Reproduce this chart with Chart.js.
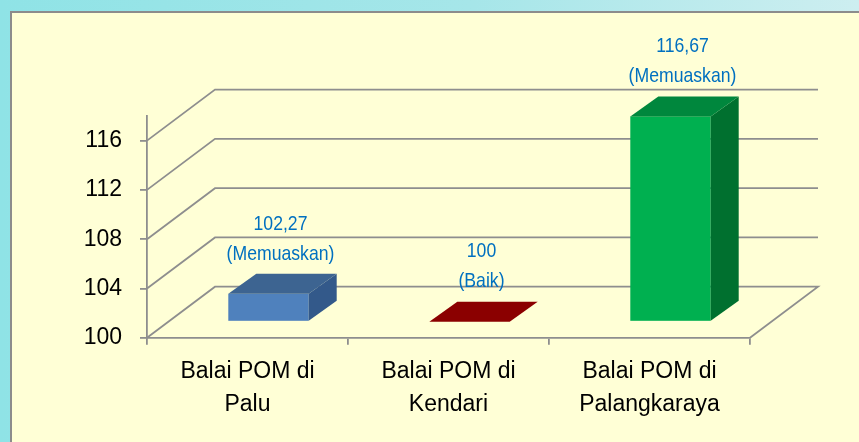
<!DOCTYPE html>
<html>
<head>
<meta charset="utf-8">
<script src="https://cdn.jsdelivr.net/npm/chart.js@4"></script>
<style>
  html, body { margin: 0; padding: 0; }
  body {
    width: 859px; height: 442px; overflow: hidden; position: relative;
    background: linear-gradient(to right, #8fe3e6 0%, #a6e6e9 55%, #cdeef0 100%);
  }
  #panel {
    position: absolute; left: 10px; top: 11px; width: 900px; height: 500px;
    background: #ffffd6; border-left: 2px solid #8c8c8c; border-top: 2px solid #8c8c8c;
  }
  #chart { position: absolute; left: 0; top: 0; }
</style>
</head>
<body>
<div id="panel"></div>
<canvas id="chart" width="859" height="442"></canvas>
<script>
const categories = [['Balai POM di', 'Palu'], ['Balai POM di', 'Kendari'], ['Balai POM di', 'Palangkaraya']];
const scores = [102.27, 100, 116.67];
const scoreText = ['102,27', '100', '116,67'];
const ratings = ['(Memuaskan)', '(Baik)', '(Memuaskan)'];
const yTicks = [100, 104, 108, 112, 116];

const frontColors = ['#4f81bd', '#8b0000', '#00b050'];
const topColors = ['#3d6491', '#8b0000', '#00873d'];
const sideColors = ['#33598a', '#6e0000', '#00702f'];

const GRID = '#8e8e8e';
const FONT = "'Liberation Sans', Arial, sans-serif";
const WALL = { dx: 68, dy: -51 };   // back wall offset
const PLANE = { dx: 21, dy: -16 };  // front plane of the bars
const DEPTH = { dx: 28, dy: -20 };  // bar depth

const walls = {
  id: 'walls',
  beforeDraw(chart) {
    const { ctx, chartArea: a, scales: { y } } = chart;
    ctx.save();
    ctx.strokeStyle = GRID;
    ctx.lineWidth = 1.8;
    yTicks.forEach(v => {
      const py = y.getPixelForValue(v);
      ctx.beginPath();
      ctx.moveTo(a.left, py);
      ctx.lineTo(a.left + WALL.dx, py + WALL.dy);
      ctx.lineTo(a.right + WALL.dx, py + WALL.dy);
      if (v === yTicks[0]) ctx.lineTo(a.right, py);
      ctx.stroke();
    });
    ctx.restore();
  },
  beforeDatasetDraw(chart, args) {
    const { ctx } = chart;
    ctx.save();
    args.meta.data.forEach((bar, i) => {
      const p = bar.getProps(['x', 'y', 'base', 'width'], true);
      const l = p.x - p.width / 2 + PLANE.dx;
      const r = p.x + p.width / 2 + PLANE.dx;
      const t = p.y + PLANE.dy;
      const b = p.base + PLANE.dy;
      if (b - t > 0.5) {
        ctx.fillStyle = frontColors[i];
        ctx.fillRect(l, t, r - l, b - t);
        ctx.fillStyle = sideColors[i];
        ctx.beginPath();
        ctx.moveTo(r, t);
        ctx.lineTo(r + DEPTH.dx, t + DEPTH.dy);
        ctx.lineTo(r + DEPTH.dx, b + DEPTH.dy);
        ctx.lineTo(r, b);
        ctx.closePath();
        ctx.fill();
      }
      ctx.fillStyle = topColors[i];
      ctx.beginPath();
      ctx.moveTo(l, t);
      ctx.lineTo(l + DEPTH.dx, t + DEPTH.dy);
      ctx.lineTo(r + DEPTH.dx, t + DEPTH.dy);
      ctx.lineTo(r, t);
      ctx.closePath();
      ctx.fill();
    });
    ctx.restore();
    return false;
  },
  afterDraw(chart) {
    const { ctx } = chart;
    const meta = chart.getDatasetMeta(0);
    ctx.save();
    ctx.fillStyle = '#0070c0';
    ctx.font = '21px ' + FONT;
    ctx.textAlign = 'center';
    ctx.textBaseline = 'middle';
    meta.data.forEach((bar, i) => {
      const cx = bar.x + PLANE.dx + 12;
      const ty = bar.y + PLANE.dy - 40;
      ctx.save();
      ctx.translate(cx, ty);
      ctx.scale(0.84, 1);
      ctx.fillText(scoreText[i], 0, -30);
      ctx.fillText(ratings[i], 0, 0);
      ctx.restore();
    });
    ctx.restore();
  }
};

new Chart(document.getElementById('chart'), {
  type: 'bar',
  data: {
    labels: categories,
    datasets: [{
      data: scores,
      base: 100,
      backgroundColor: frontColors,
      barPercentage: 0.4,
      categoryPercentage: 1
    }]
  },
  options: {
    responsive: false,
    animation: false,
    events: [],
    layout: { padding: { left: 0, top: 116, right: 109, bottom: 4.3 } },
    plugins: { legend: { display: false }, tooltip: { enabled: false } },
    scales: {
      y: {
        min: 100,
        max: 118,
        afterFit: s => { s.width = 147; },
        afterBuildTicks: s => { s.ticks = yTicks.map(v => ({ value: v })); },
        grid: { drawOnChartArea: false, color: GRID, lineWidth: 1.8, tickLength: 7 },
        border: { color: GRID, width: 1.8 },
        ticks: { color: '#000', padding: 18, font: { family: FONT, size: 23 } }
      },
      x: {
        afterFit: s => { s.height = 100; },
        grid: { offset: true, drawOnChartArea: false, color: GRID, lineWidth: 1.8, tickLength: 7 },
        border: { color: GRID, width: 1.8 },
        ticks: { color: '#000', padding: 11, maxRotation: 0, font: { family: FONT, size: 23, lineHeight: 1.43 } }
      }
    }
  },
  plugins: [walls]
});
</script>
</body>
</html>
